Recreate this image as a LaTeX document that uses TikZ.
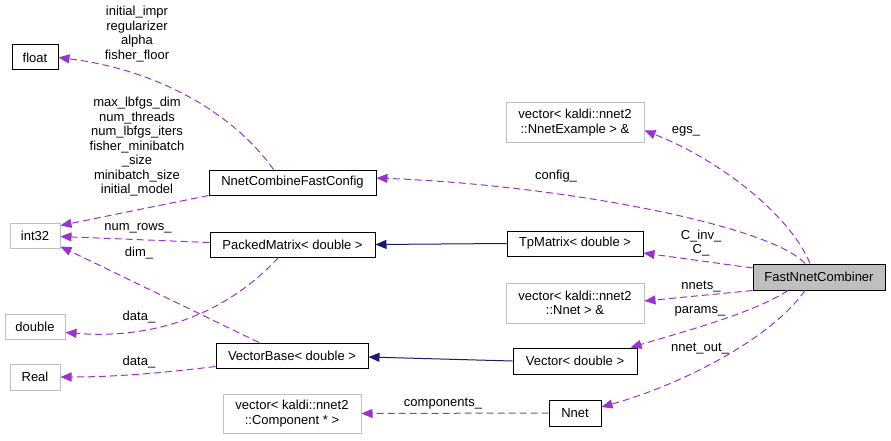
\documentclass[tikz,border=0pt]{standalone}
\usepackage{fontspec}
\setmainfont{Liberation Sans}
\usetikzlibrary{arrows.meta,calc}
\definecolor{edgepurple}{HTML}{9A32CD}
\definecolor{navy}{HTML}{191970}
\definecolor{greyb}{HTML}{BFBFBF}
\tikzset{
  every node/.style={font=\fontsize{13}{14.5}\selectfont, inner sep=0pt, align=center},
  blk/.style={draw=black, line width=1pt, fill=white},
  gry/.style={draw=greyb, line width=1pt, fill=white},
  mainbox/.style={draw=black, line width=1pt, fill=greyb},
  mem/.style={draw=edgepurple, line width=1pt, dash pattern=on 7pt off 4pt, -{Triangle[length=11pt,width=9pt]}},
  inh/.style={draw=navy, line width=1pt, -{Triangle[length=11pt,width=9pt]}},
  lbl/.style={font=\fontsize{13}{14.5}\selectfont},
}
\begin{document}
\begin{tikzpicture}[x=1pt,y=-1pt]
\useasboundingbox (0,0) rectangle (891,441);
% nodes
\node[blk, minimum width=46pt, minimum height=25pt] (float) at (35,57.5) {float};
\node[blk, minimum width=167pt, minimum height=25pt] (cfg) at (292.5,182.5) {NnetCombineFastConfig};
\node[gry, minimum width=50pt, minimum height=25pt] (int32) at (35,235.5) {int32};
\node[blk, minimum width=165pt, minimum height=25pt] (pm) at (292.5,244.5) {PackedMatrix< double >};
\node[gry, minimum width=60pt, minimum height=25pt] (dbl) at (35,326.5) {double};
\node[blk, minimum width=152pt, minimum height=25pt] (vb) at (292,355.5) {VectorBase< double >};
\node[gry, minimum width=50pt, minimum height=26pt] (real) at (35,377) {Real};
\node[gry, minimum width=138pt, minimum height=39pt] (vcomp) at (292,413.5) {vector< kaldi::nnet2\\::Component * >};
\node[gry, minimum width=138pt, minimum height=39pt] (vegs) at (575,122.5) {vector< kaldi::nnet2\\::NnetExample > \&};
\node[blk, minimum width=136pt, minimum height=25pt] (tp) at (575,243.5) {TpMatrix< double >};
\node[mainbox, minimum width=132pt, minimum height=26pt] (fnc) at (819,277) {FastNnetCombiner};
\node[gry, minimum width=138pt, minimum height=40pt] (vnnet) at (575,303) {vector< kaldi::nnet2\\::Nnet > \&};
\node[blk, minimum width=124pt, minimum height=26pt] (vec) at (575,361) {Vector< double >};
\node[blk, minimum width=52pt, minimum height=26pt] (nnet) at (575,413) {Nnet};

% edges from FastNnetCombiner
\draw[mem] ($(fnc.north)+(-14,0)$) .. controls (770,225) and (560,185) .. ($(cfg.east)+(0,-4.5)$);
\draw[mem] ($(fnc.north)+(-9,0)$) .. controls (790,215) and (720,160) .. ($(vegs.east)+(0,8)$);
\draw[mem] ($(fnc.west)+(0,-9)$) -- ($(tp.east)+(0,9.5)$);
\draw[mem] (fnc.south west) -- ($(vnnet.east)+(0,-2)$);
\draw[mem] ($(fnc.south)+(-31,0)$) .. controls (755,312) and (690,330) .. ($(vec.north east)+(-7,0)$);
\draw[mem] ($(fnc.south)+(-14,0)$) .. controls (770,340) and (680,385) .. ($(nnet.east)+(0,-6)$);
\draw[mem] (nnet.west) -- (vcomp.east);

% inheritance
\draw[inh] (tp.west) -- (pm.east);
\draw[inh] (vec.west) -- ($(vb.east)+(0,1.5)$);

% left side
\draw[mem] ($(pm.west)+(0,-2)$) -- ($(int32.east)+(0,1)$);
\draw[mem] (cfg.south west) -- ($(int32.east)+(0,-10)$);
\draw[mem] ($(cfg.north)+(-19,0)$) .. controls (235,115) and (160,70) .. (float.east);
\draw[mem] ($(vb.north)+(-33,0)$) -- ($(int32.east)+(0,11)$);
\draw[mem] ($(pm.south)+(-14,0)$) .. controls (230,310) and (160,340) .. ($(dbl.east)+(0,6)$);
\draw[mem] ($(vb.south west)+(0,-2)$) .. controls (170,372) and (120,377) .. (real.east);

% labels
\node[lbl] (lconfig) at (556,176) {config\_};
\node[lbl] (legs) at (686,131) {egs\_};
\node[lbl] (lcinv) at (701,243) {C\_inv\_\\C\_};
\node[lbl] (lnnets) at (701,287) {nnets\_};
\node[lbl] (lparams) at (700,311) {params\_};
\node[lbl] (lnnetout) at (700,349) {nnet\_out\_};
\node[lbl] (lcomp) at (443,404) {components\_};
\node[lbl] (lfloat) at (137,34) {initial\_impr\\regularizer\\alpha\\fisher\_floor};
\node[lbl] (lint) at (137,147) {max\_lbfgs\_dim\\num\_threads\\num\_lbfgs\_iters\\fisher\_minibatch\\\_size\\minibatch\_size\\initial\_model};
\node[lbl] (lrows) at (138,228) {num\_rows\_};
\node[lbl] (ldim) at (139,253) {dim\_};
\node[lbl] (ldata1) at (139,317) {data\_};
\node[lbl] (ldata2) at (139,362) {data\_};
\end{tikzpicture}
\end{document}
